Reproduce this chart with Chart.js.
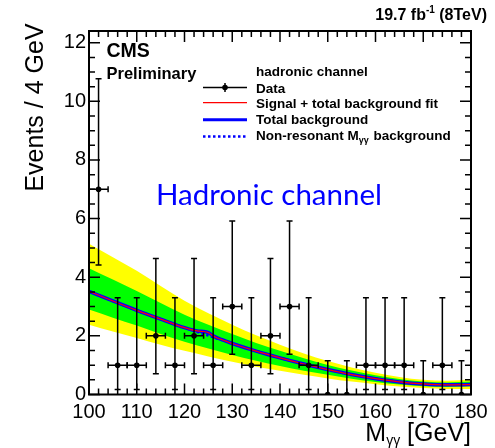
<!DOCTYPE html>
<html><head><meta charset="utf-8">
<script src="https://cdn.jsdelivr.net/npm/chart.js@4.4.0/dist/chart.umd.min.js"></script>
<style>html,body{margin:0;padding:0;background:#fff;}#wrap{width:495px;height:448px;}</style>
</head><body><div id="wrap"><canvas id="c" width="495" height="448"></canvas></div>
<script>
// ---- data ----
const binCenters = [102,106,110,114,118,122,126,130,134,138,142,146,150,154,158,162,166,170,174,178];
const events     = [7,1,1,2,1,2,1,3,1,2,3,1,0,0,1,1,1,0,1,0];
const errLow     = [4.42,0.17,0.17,0.71,0.17,0.71,0.17,1.37,0.17,0.71,1.37,0.17,0,0,0.17,0.17,0.17,0,0.17,0];
const errHigh    = [10.77,3.30,3.30,4.64,3.30,4.64,3.30,5.92,3.30,4.64,5.92,3.30,1.15,1.15,3.30,3.30,3.30,1.15,3.30,1.15];
const binHalfWidth = 2;

const bandMass   = [100,105,110,115,120,125,130,135,140,145,150,155,160,165,170,175,180];
const nonResBkg  = [3.52,3.19,2.87,2.57,2.28,2.01,1.74,1.48,1.25,1.04,0.85,0.68,0.54,0.43,0.36,0.33,0.34];
const yellowHigh = [5.14,4.68,4.22,3.70,3.20,2.77,2.38,2.02,1.70,1.40,1.14,0.92,0.74,0.60,0.50,0.47,0.51];
const greenHigh  = [4.31,3.92,3.53,3.12,2.72,2.38,2.06,1.76,1.49,1.24,1.01,0.82,0.66,0.53,0.44,0.41,0.44];
const greenLow   = [2.90,2.62,2.35,2.06,1.80,1.57,1.35,1.15,0.97,0.81,0.67,0.54,0.43,0.34,0.28,0.26,0.28];
const yellowLow  = [2.38,2.15,1.93,1.70,1.49,1.30,1.12,0.95,0.81,0.67,0.55,0.44,0.35,0.27,0.22,0.19,0.19];

const totalMass  = [100,105,110,115,120,121,122,123,124,125,126,127,128,130,135,140,145,150,155,160,165,170,175,180];
const totalBkg   = [3.52,3.19,2.87,2.57,2.28,2.23,2.19,2.16,2.15,2.11,2.00,1.92,1.86,1.74,1.48,1.25,1.04,0.85,0.68,0.54,0.43,0.36,0.33,0.34];
const sigPlusBkg = [3.52,3.19,2.87,2.57,2.28,2.23,2.19,2.16,2.15,2.11,2.00,1.92,1.86,1.74,1.48,1.25,1.04,0.85,0.68,0.54,0.43,0.36,0.33,0.34];

const xTickLabels = [100,110,120,130,140,150,160,170,180];
const yTickLabels = [0,2,4,6,8,10,12];

const pts = (xs, ys) => xs.map((x,i)=>({x:x, y:ys[i]}));
const SANS = '"Liberation Sans", Arial, Helvetica, sans-serif';

const decor = {
  id: 'decor',
  beforeDatasetDraw(chart, args) {
    if (args.index !== 0) return;
    const ctx = chart.ctx, xs = chart.scales.x, ys = chart.scales.y;
    ctx.save();
    ctx.strokeStyle = '#000'; ctx.lineWidth = 1.5;
    const cap = 3;
    binCenters.forEach((m,i) => {
      const px = xs.getPixelForValue(m), py = ys.getPixelForValue(events[i]);
      const pl = ys.getPixelForValue(errLow[i]), ph = ys.getPixelForValue(errHigh[i]);
      const xl = xs.getPixelForValue(m - binHalfWidth), xr = xs.getPixelForValue(m + binHalfWidth);
      ctx.beginPath();
      ctx.moveTo(px, pl); ctx.lineTo(px, ph);
      ctx.moveTo(px-cap, ph); ctx.lineTo(px+cap, ph);
      if (events[i] > 0) {
        ctx.moveTo(px-cap, pl); ctx.lineTo(px+cap, pl);
        ctx.moveTo(xl, py); ctx.lineTo(xr, py);
        ctx.moveTo(xl, py-cap); ctx.lineTo(xl, py+cap);
        ctx.moveTo(xr, py-cap); ctx.lineTo(xr, py+cap);
      }
      ctx.stroke();
    });
    ctx.restore();
  },
  afterDraw(chart) {
    const ctx = chart.ctx, a = chart.chartArea, xs = chart.scales.x, ys = chart.scales.y;
    ctx.save();
    // ticks (inside, all four sides)
    ctx.strokeStyle = '#000'; ctx.lineWidth = 1.5;
    ctx.beginPath();
    for (let v = 100; v <= 180.001; v += 2) {
      const p = xs.getPixelForValue(v);
      const L = (Math.abs(v % 10) < 1e-6) ? 11 : 6;
      ctx.moveTo(p, a.bottom); ctx.lineTo(p, a.bottom - L);
      ctx.moveTo(p, a.top); ctx.lineTo(p, a.top + L);
    }
    for (let v = 0; v <= 12.4; v += 0.5) {
      const p = ys.getPixelForValue(v);
      const L = (Math.abs(v % 2) < 1e-6) ? 11 : 6;
      ctx.moveTo(a.left, p); ctx.lineTo(a.left + L, p);
      ctx.moveTo(a.right, p); ctx.lineTo(a.right - L, p);
    }
    ctx.stroke();
    // frame
    ctx.lineWidth = 2;
    ctx.strokeRect(a.left, a.top, a.right - a.left, a.bottom - a.top);

    ctx.fillStyle = '#000';
    ctx.textBaseline = 'alphabetic';
    // CMS Preliminary
    ctx.textAlign = 'left';
    ctx.font = 'bold 19.5px ' + SANS;
    ctx.fillText('CMS', 106.5, 57.3);
    ctx.font = 'bold 16.5px ' + SANS;
    ctx.fillText('Preliminary', 106.5, 79);

    // top-right luminosity
    ctx.font = 'bold 16px ' + SANS;
    const t1 = '19.7 fb', t3 = ' (8TeV)';
    const w1 = ctx.measureText(t1).width, w3 = ctx.measureText(t3).width;
    ctx.font = 'bold 10px ' + SANS;
    const t2 = '-1', w2 = ctx.measureText(t2).width;
    let x0 = 487 - (w1 + w2 + w3);
    ctx.font = 'bold 16px ' + SANS; ctx.fillText(t1, x0, 20);
    ctx.font = 'bold 10px ' + SANS; ctx.fillText(t2, x0 + w1, 12.5);
    ctx.font = 'bold 16px ' + SANS; ctx.fillText(t3, x0 + w1 + w2, 20);

    // legend
    const lx0 = 203, lx1 = 247, tx = 256;
    ctx.font = 'bold 13.5px ' + SANS;
    ctx.fillText('hadronic channel', tx, 75.7);
    // Data
    ctx.lineWidth = 1.5; ctx.strokeStyle = '#000';
    ctx.beginPath(); ctx.moveTo(lx0, 87.5); ctx.lineTo(lx1, 87.5);
    ctx.moveTo(225, 83); ctx.lineTo(225, 92); ctx.stroke();
    ctx.beginPath(); ctx.arc(225, 87.5, 2.8, 0, Math.PI*2); ctx.fill();
    ctx.fillText('Data', tx, 93);
    // Signal + total background
    ctx.strokeStyle = '#ff0000'; ctx.lineWidth = 1.2;
    ctx.beginPath(); ctx.moveTo(lx0, 102.7); ctx.lineTo(lx1, 102.7); ctx.stroke();
    ctx.fillText('Signal + total background fit', tx, 107.5);
    // Total background
    ctx.strokeStyle = '#0000ff'; ctx.lineWidth = 3;
    ctx.beginPath(); ctx.moveTo(lx0, 119.7); ctx.lineTo(lx1, 119.7); ctx.stroke();
    ctx.fillText('Total background', tx, 124);
    // Non-resonant
    ctx.lineWidth = 2.5; ctx.setLineDash([2.5, 2.5]);
    ctx.beginPath(); ctx.moveTo(lx0, 136.5); ctx.lineTo(lx1, 136.5); ctx.stroke();
    ctx.setLineDash([]);
    let s1 = 'Non-resonant M';
    ctx.fillText(s1, tx, 139.6);
    let xx = tx + ctx.measureText(s1).width;
    ctx.font = 'bold 9px ' + SANS;
    ctx.fillText('\u03b3\u03b3', xx, 143);
    xx += ctx.measureText('\u03b3\u03b3').width;
    ctx.font = 'bold 13.5px ' + SANS;
    ctx.fillText(' background', xx + 1, 139.6);

    // blue annotation
    ctx.fillStyle = '#0000ff';
    ctx.font = '29.5px Lato, "Open Sans", sans-serif';
    ctx.fillText('Hadronic channel', 156, 205);

    // axis titles
    ctx.fillStyle = '#000';
    ctx.font = '25px ' + SANS;
    ctx.save();
    ctx.translate(43, 107.5); ctx.rotate(-Math.PI/2);
    ctx.textAlign = 'center';
    ctx.fillText('Events / 4 GeV', 0, 0);
    ctx.restore();
    // x title
    ctx.textAlign = 'left';
    ctx.font = '25px ' + SANS;
    const mW = ctx.measureText('M').width, gW = (() => { ctx.font = '14px ' + SANS; return ctx.measureText('\u03b3\u03b3').width; })();
    ctx.font = '25px ' + SANS;
    const rW = ctx.measureText(' [GeV]').width;
    let xt = 471 - (mW + gW + rW);
    ctx.fillText('M', xt, 441);
    ctx.font = '14px ' + SANS; ctx.fillText('\u03b3\u03b3', xt + mW, 445);
    ctx.font = '25px ' + SANS; ctx.fillText(' [GeV]', xt + mW + gW, 441);
    ctx.restore();
  }
};

const lineDs = (label, xs, ys, extra) => Object.assign({
  type: 'line', label: label, data: pts(xs, ys), pointRadius: 0, borderWidth: 0,
  cubicInterpolationMode: 'monotone', fill: false
}, extra);

new Chart(document.getElementById('c'), {
  type: 'line',
  data: {
    datasets: [
      { type: 'line', label: 'Data', data: pts(binCenters, events), showLine: false,
        pointRadius: 2.8, pointBackgroundColor: '#000', pointBorderWidth: 0, pointHoverRadius: 2.8, order: 0 },
      lineDs('Signal + total background fit', totalMass, sigPlusBkg, { borderColor: '#ff0000', borderWidth: 1.2, order: 1 }),
      lineDs('Total background', totalMass, totalBkg, { borderColor: '#0000ff', borderWidth: 3.5, order: 2 }),
      lineDs('Non-resonant background', bandMass, nonResBkg, { borderColor: '#0000ff', borderWidth: 2.5, borderDash: [2.5, 2.5], order: 3 }),
      lineDs('green high', bandMass, greenHigh, { fill: '+1', backgroundColor: '#00ff00', borderColor: 'rgba(0,0,0,0)', order: 4 }),
      lineDs('green low', bandMass, greenLow, { borderColor: 'rgba(0,0,0,0)', order: 5 }),
      lineDs('yellow high', bandMass, yellowHigh, { fill: '+1', backgroundColor: '#ffff00', borderColor: 'rgba(0,0,0,0)', order: 6 }),
      lineDs('yellow low', bandMass, yellowLow, { borderColor: 'rgba(0,0,0,0)', order: 7 })
    ]
  },
  options: {
    responsive: false, animation: false, devicePixelRatio: 1,
    layout: { padding: { left: 0, right: 24, top: 31, bottom: 0 } },
    plugins: { legend: { display: false }, tooltip: { enabled: false } },
    events: [],
    scales: {
      x: {
        type: 'linear', min: 100, max: 180,
        grid: { display: false, drawTicks: false }, border: { display: false },
        afterBuildTicks: s => { s.ticks = xTickLabels.map(v => ({ value: v })); },
        ticks: { autoSkip: false, maxRotation: 0, padding: 6, color: '#000', font: { family: SANS, size: 20 } },
        afterFit: s => { s.height = 53.5; }
      },
      y: {
        type: 'linear', min: 0, max: 12.4,
        grid: { display: false, drawTicks: false }, border: { display: false },
        afterBuildTicks: s => { s.ticks = yTickLabels.map(v => ({ value: v })); },
        ticks: { autoSkip: false, padding: 3, color: '#000', font: { family: SANS, size: 20 } },
        afterFit: s => { s.width = 89; }
      }
    }
  },
  plugins: [decor]
});
</script>
</body></html>
